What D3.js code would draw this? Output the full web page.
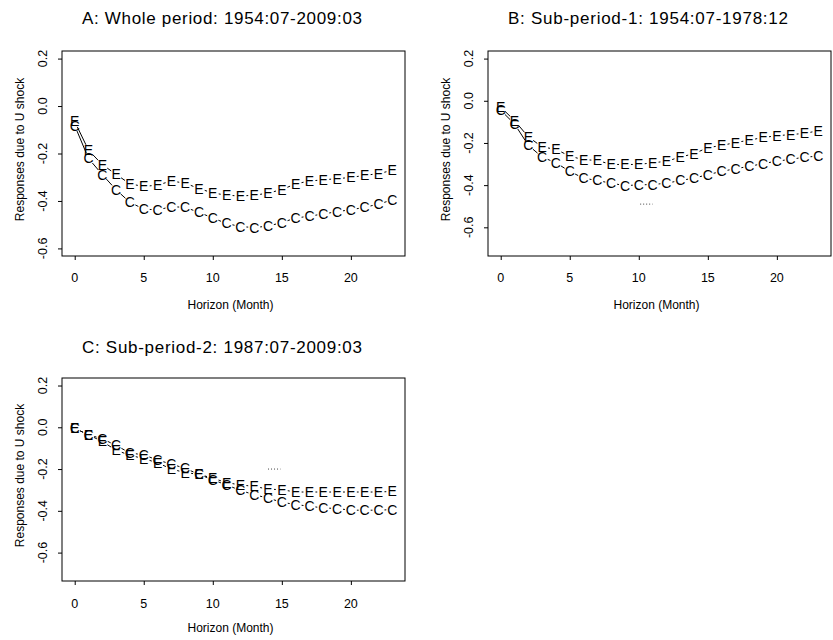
<!DOCTYPE html>
<html>
<head>
<meta charset="utf-8">
<script src="https://cdn.jsdelivr.net/npm/d3@7"></script>
<style>
    body { margin: 0; background: #fff; }
    svg { font-family: "Liberation Sans", Arial, sans-serif; }
</style>
</head>
<body>
<svg id="chart" width="833" height="640"></svg>
<script>
// horizon (months)
var horizon = [0, 1, 2, 3, 4, 5, 6, 7, 8, 9, 10, 11, 12, 13, 14, 15, 16, 17, 18, 19, 20, 21, 22, 23];
var xTicks = [0, 5, 10, 15, 20];
var yTicks = [-0.6, -0.4, -0.2, 0.0, 0.2];

var titles = [
    "A: Whole period: 1954:07-2009:03",
    "B: Sub-period-1: 1954:07-1978:12",
    "C: Sub-period-2: 1987:07-2009:03"
];

// responses, series "E"
var respE_A = [-0.065, -0.186, -0.247, -0.288, -0.328, -0.339, -0.333, -0.316, -0.325, -0.348, -0.366, -0.376,
    -0.379, -0.376, -0.367, -0.352, -0.328, -0.316, -0.311, -0.306, -0.301, -0.292, -0.285, -0.271];
var respE_B = [-0.030, -0.094, -0.171, -0.219, -0.230, -0.263, -0.279, -0.283, -0.302, -0.302, -0.302, -0.294,
    -0.287, -0.267, -0.251, -0.222, -0.212, -0.198, -0.187, -0.174, -0.166, -0.160, -0.155, -0.142];
var respE_C = [-0.005, -0.036, -0.068, -0.110, -0.134, -0.150, -0.170, -0.200, -0.217, -0.225, -0.244, -0.265,
    -0.276, -0.283, -0.296, -0.299, -0.310, -0.310, -0.310, -0.310, -0.310, -0.310, -0.310, -0.307];

// responses, series "C"
var respC_A = [-0.082, -0.221, -0.289, -0.353, -0.406, -0.434, -0.438, -0.424, -0.427, -0.448, -0.472, -0.495,
    -0.508, -0.512, -0.506, -0.491, -0.472, -0.464, -0.455, -0.445, -0.437, -0.427, -0.413, -0.396];
var respC_B = [-0.045, -0.110, -0.211, -0.267, -0.294, -0.335, -0.367, -0.378, -0.391, -0.402, -0.399, -0.397,
    -0.391, -0.378, -0.367, -0.350, -0.335, -0.322, -0.311, -0.298, -0.286, -0.278, -0.267, -0.263];
var respC_C = [-0.005, -0.036, -0.055, -0.087, -0.123, -0.132, -0.157, -0.176, -0.197, -0.225, -0.252, -0.276,
    -0.302, -0.323, -0.339, -0.359, -0.370, -0.378, -0.386, -0.389, -0.397, -0.397, -0.397, -0.394];

// small dotted marks left in panels B and C  [x0, x1, y]
var dotsB = [10.1, 11.0, -0.49];
var dotsC = [14.0, 14.9, -0.20];

var yLimits = [[-0.6, 0.2], [-0.7, 0.2], [-0.7, 0.2]];

var panels = [
    { title: titles[0], E: respE_A, C: respC_A, ylim: yLimits[0], dots: null,
      left: 62, right: 405, top: 51, bottom: 256, titleX: 222, titleY: 18, tickY: 278, labY: 305 },
    { title: titles[1], E: respE_B, C: respC_B, ylim: yLimits[1], dots: dotsB,
      left: 488, right: 831, top: 51, bottom: 256, titleX: 648, titleY: 18, tickY: 278, labY: 305 },
    { title: titles[2], E: respE_C, C: respC_C, ylim: yLimits[2], dots: dotsC,
      left: 62, right: 405, top: 378, bottom: 581, titleX: 222, titleY: 347, tickY: 604, labY: 628 }
];

var svg = d3.select("#chart");

function padded(lo, hi) {
    var d = (hi - lo) * 0.04;
    return [lo - d, hi + d];
}

function drawSeries(g, x, y, values, ch) {
    var gap = 6;
    for (var i = 0; i < values.length - 1; i++) {
        var x0 = x(horizon[i]), y0 = y(values[i]);
        var x1 = x(horizon[i + 1]), y1 = y(values[i + 1]);
        var len = Math.hypot(x1 - x0, y1 - y0);
        if (len <= 2 * gap) continue;
        var ux = (x1 - x0) / len, uy = (y1 - y0) / len;
        g.append("line")
            .attr("x1", x0 + ux * gap).attr("y1", y0 + uy * gap)
            .attr("x2", x1 - ux * gap).attr("y2", y1 - uy * gap)
            .attr("stroke", "#000").attr("stroke-width", 1);
    }
    g.selectAll("text.pt-" + ch)
        .data(values)
        .join("text")
        .attr("class", "pt-" + ch)
        .attr("x", (d, i) => x(horizon[i]))
        .attr("y", d => y(d))
        .attr("text-anchor", "middle")
        .attr("dominant-baseline", "central")
        .attr("font-size", 14)
        .text(ch);
}

panels.forEach(function (p) {
    var x = d3.scaleLinear().domain(padded(0, 23)).range([p.left, p.right]);
    var y = d3.scaleLinear().domain(padded(p.ylim[0], p.ylim[1])).range([p.bottom, p.top]);
    var g = svg.append("g");

    g.append("text")
        .attr("x", p.titleX).attr("y", p.titleY)
        .attr("text-anchor", "middle")
        .attr("dominant-baseline", "central")
        .attr("font-size", 17)
        .attr("textLength", 280)
        .attr("lengthAdjust", "spacing")
        .text(p.title);

    g.append("rect")
        .attr("x", p.left).attr("y", p.top)
        .attr("width", p.right - p.left).attr("height", p.bottom - p.top)
        .attr("fill", "none").attr("stroke", "#000").attr("stroke-width", 1);

    var xAxis = g.append("g")
        .attr("transform", "translate(0," + p.bottom + ")")
        .call(d3.axisBottom(x).tickValues(xTicks).tickSize(4).tickFormat(""));
    xAxis.select(".domain").remove();

    g.selectAll("text.xt")
        .data(xTicks)
        .join("text")
        .attr("class", "xt")
        .attr("x", d => x(d)).attr("y", p.tickY)
        .attr("text-anchor", "middle")
        .attr("dominant-baseline", "central")
        .attr("font-size", 12.5)
        .text(d => d);

    var yAxis = g.append("g")
        .attr("transform", "translate(" + p.left + ",0)")
        .call(d3.axisLeft(y).tickValues(yTicks).tickSize(4).tickFormat(""));
    yAxis.select(".domain").remove();

    g.selectAll("text.yt")
        .data(yTicks)
        .join("text")
        .attr("class", "yt")
        .attr("transform", d => "translate(" + (p.left - 19) + "," + y(d) + ") rotate(-90)")
        .attr("text-anchor", "middle")
        .attr("dominant-baseline", "central")
        .attr("font-size", 12.5)
        .text(d => d.toFixed(1));

    g.append("text")
        .attr("x", (p.left + p.right) / 2 - 3).attr("y", p.labY)
        .attr("text-anchor", "middle")
        .attr("dominant-baseline", "central")
        .attr("font-size", 12)
        .text("Horizon (Month)");

    g.append("text")
        .attr("transform", "translate(" + (p.left - 42) + "," + ((p.top + p.bottom) / 2 - 4) + ") rotate(-90)")
        .attr("text-anchor", "middle")
        .attr("dominant-baseline", "central")
        .attr("font-size", 12)
        .text("Responses due to U shock");

    if (p.dots) {
        g.append("line")
            .attr("x1", x(p.dots[0])).attr("x2", x(p.dots[1]))
            .attr("y1", y(p.dots[2])).attr("y2", y(p.dots[2]))
            .attr("stroke", "#444").attr("stroke-width", 1)
            .attr("stroke-dasharray", "1,2");
    }

    drawSeries(g, x, y, p.E, "E");
    drawSeries(g, x, y, p.C, "C");
});
</script>
</body>
</html>
